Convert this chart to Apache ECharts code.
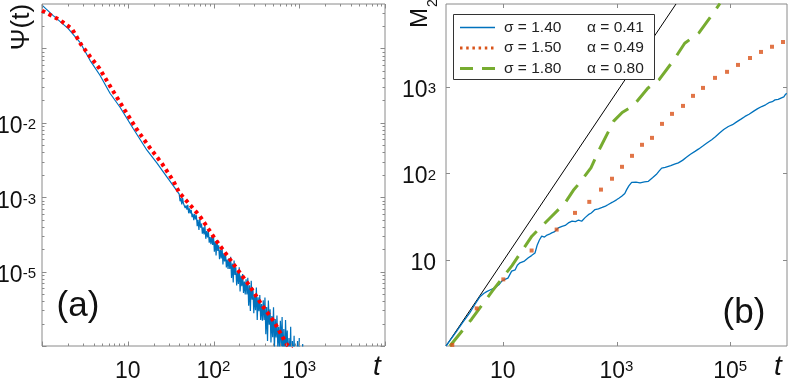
<!DOCTYPE html>
<html><head><meta charset="utf-8">
<script src="https://cdn.jsdelivr.net/npm/echarts@6/dist/echarts.min.js"></script>
<style>html,body{margin:0;padding:0;background:#fff}#c{width:789px;height:378px}</style>
</head><body><div id="c"></div>
<script>
const psiSimLog10 = [
  [0,-0.42],[0.128,-0.557],[0.303,-0.732],[0.443,-0.919],[0.560,-1.161],[0.676,-1.362],[0.793,-1.604],
  [0.910,-1.792],[1.061,-2.074],[1.224,-2.369],[1.341,-2.544],[1.458,-2.732],[1.551,-2.879],
  [1.60,-2.960],[1.61,-3.055],[1.62,-3.010],[1.63,-3.096],[1.64,-3.011],[1.65,-3.086],[1.66,-3.061],
  [1.67,-3.146],[1.68,-3.111],[1.69,-3.167],[1.70,-3.102],[1.71,-3.217],[1.72,-3.152],[1.73,-3.217],
  [1.74,-3.172],[1.75,-3.268],[1.76,-3.223],[1.77,-3.308],[1.78,-3.223],[1.79,-3.298],
  [1.80,-3.243],[1.81,-3.389],[1.82,-3.304],[1.83,-3.439],[1.84,-3.294],[1.85,-3.409],[1.86,-3.354],
  [1.87,-3.490],[1.88,-3.405],[1.89,-3.500],[1.90,-3.385],[1.91,-3.560],[1.92,-3.455],[1.93,-3.541],
  [1.94,-3.456],[1.95,-3.611],[1.96,-3.536],[1.97,-3.631],[1.98,-3.526],[1.99,-3.642],
  [2.00,-3.527],[2.01,-3.732],[2.02,-3.597],[2.03,-3.782],[2.04,-3.577],[2.05,-3.723],[2.06,-3.648],
  [2.07,-3.833],[2.08,-3.708],[2.09,-3.823],[2.10,-3.669],[2.11,-3.904],[2.12,-3.759],[2.13,-3.864],
  [2.14,-3.749],[2.15,-3.944],[2.16,-3.840],[2.17,-3.965],[2.18,-3.820],[2.19,-3.965],
  [2.20,-3.800],[2.21,-4.085],[2.22,-3.891],[2.23,-4.146],[2.24,-3.851],[2.25,-4.046],[2.26,-3.941],
  [2.27,-4.186],[2.28,-4.002],[2.29,-4.167],[2.30,-3.942],[2.31,-4.267],[2.32,-4.052],[2.33,-4.197],
  [2.34,-4.033],[2.35,-4.288],[2.36,-4.133],[2.37,-4.308],[2.38,-4.103],[2.39,-4.308],
  [2.40,-4.084],[2.41,-4.459],[2.42,-4.184],[2.43,-4.529],[2.44,-4.124],[2.45,-4.379],[2.46,-4.225],
  [2.47,-4.560],[2.48,-4.305],[2.49,-4.520],[2.50,-4.215],[2.51,-4.650],[2.52,-4.346],[2.53,-4.531],
  [2.54,-4.316],[2.55,-4.651],[2.56,-4.436],[2.57,-4.661],[2.58,-4.387],[2.59,-4.652],
  [2.60,-4.347],[2.61,-4.842],[2.62,-4.477],[2.63,-4.932],[2.64,-4.388],[2.65,-4.713],[2.66,-4.508],
  [2.67,-4.953],[2.68,-4.598],[2.69,-4.883],[2.70,-4.479],[2.71,-5.054],[2.72,-4.639],[2.73,-4.884],
  [2.74,-4.589],[2.75,-5.035],[2.76,-4.740],[2.77,-5.035],[2.78,-4.660],[2.79,-5.005],
  [2.80,-4.610],[2.81,-5.246],[2.82,-4.771],[2.83,-5.356],[2.84,-4.651],[2.85,-5.046],[2.86,-4.791],
  [2.87,-5.367],[2.88,-4.892],[2.89,-5.267],[2.90,-4.742],[2.91,-5.477],[2.92,-4.932],[2.93,-5.248],
  [2.94,-4.863],[2.95,-5.438],[2.96,-5.033],[2.97,-5.428],[2.98,-4.933],[2.99,-5.379],
  [3.00,-4.894],[3.01,-5.579],[3.02,-5.064],[3.03,-5.659],[3.04,-4.974],[3.05,-5.490],[3.06,-5.085],
  [3.07,-5.700],[3.08,-5.015],[3.09,-5.600],[3.10,-5.085],[3.11,-5.781],[3.12,-5.076]
];
const psiFit = [
  [1,0.32],[1.62,0.24],[2.24,0.182],[2.82,0.115],[3.63,0.0776],[4.68,0.0537],[6.46,0.0288],
  [9.33,0.0145],[12.6,8.3e-3],[18.2,4.57e-3],[25.1,2.82e-3],[33.9,1.66e-3],[39.8,1.15e-3],
  [69,5.6e-4],[107,2.63e-4],[166,1.32e-4],[263,6.46e-5],[372,3.47e-5],[513,2.09e-5],[708,1.07e-5],[1000,7.1e-6]
];
// ---------- panel (b): second moment M2(t) ----------
const m2Sigma140 = [
  [1,1],[1.5,1.45],[2,1.9],[2.6,2.4],[3.2,3.0],[3.96,3.72],[4.6,4.05],[5.2,4.25],[6.2,4.5],[7.28,4.72],
  [8.5,5.1],[9.5,5.6],[10.9,5.89],[12.3,6.1],[14.3,7.33],[16.5,7.6],[18,8.6],[20,9.16],[24,9.6],[28.1,10.5],
  [32,11.1],[36.8,11.9],[40,14.5],[44,16.8],[48.3,18.6],[54,18.2],[60,19.2],[66,19.6],[72.4,20.3],[82,21.0],
  [94.6,23.2],[110,24.2],[125,24.8],[142,26.5],[165,27.8],[190,27.4],[215,28.6],[244,27.7],[280,30.5],
  [320,33],[360,34.5],[419,37.8],[480,38.6],[560,40],[640,41.5],[718,43.2],[850,46],[1000,49],[1100,51],
  [1233,53.8],[1400,58],[1510,64.3],[1650,71],[1849,78.0],[2200,78.5],[2600,77],[3100,79],[3639,80.2],
  [4300,88],[5000,96],[5600,105],[6237,114],[7200,116],[9000,122],[10500,127],[12250,131],[14500,140],
  [17000,152],[20000,165],[24040,178],[28000,190],[33000,205],[39000,222],[47320,243],[55000,262],
  [65000,290],[77000,318],[92900,345],[110000,362],[130000,390],[155000,420],[182400,451],[215000,478],
  [260000,520],[305000,555],[358900,587],[420000,615],[480000,650],[550000,668],[615200,701],[700000,712],
  [800000,740],[880000,760],[940000,810],[988500,837]
];
const m2Sigma150 = [
  [1.29,1.03],[3.47,2.72],[10.2,5.89],[32.1,12.7],[88.5,22.2],[186,34.6],[332,46.4],[533,64.3],
  [834,85.9],[1250,118],[1875,158],[2812,212],[4217,255],[6324,370],[9484,483],[14800,597],
  [22190,780],[33280,964],[54080,1259],[88100,1479],[137400,1778],[223400,2138],[349100,2512],
  [544500,2884],[851000,3273]
];
const m2Sigma180 = [
  [1.17,1.0],[2.82,2.04],[6.61,4.37],[14.5,8.51],[32.4,18.6],[67.6,30.2],[123,44.7],[174,63.1],
  [234,79.4],[355,115],[525,200],[891,398],[1259,501],[1995,603],[3548,955],[5623,1202],
  [10000,1995],[15850,3162],[28180,4169],[44670,6310],[66070,9120]
];
const ballistic = [[1,1],[11140,9000]];
const legendSigma = ['σ = 1.40','σ = 1.50','σ = 1.80'];
const legendAlpha = ['α = 0.41','α = 0.49','α = 0.80'];
// ---------- ticks and labels ----------
const leftXLabels = [[10,'10',''],[100,'10','2'],[1000,'10','3']];
const leftYLabels = [[1e-2,'10','-2'],[1e-3,'10','-3'],[1e-4,'10','-5']];
const rightXLabels = [[10,'10',''],[1000,'10','3'],[1e5,'10','5']];
const rightYLabels = [[10,'10',''],[100,'10','2'],[1000,'10','3']];
const leftXMajor = [1,10,100,1000,10000];
const leftXMinor = [2,3,4,5,6,7,8,9,20,30,40,50,60,70,80,90,200,300,400,500,600,700,800,900,
  2000,3000,4000,5000,6000,7000,8000,9000];
const leftYMajor = [1e-5,1e-4,1e-3,1e-2,1e-1];
const leftYMinor = [2e-5,3e-5,4e-5,5e-5,6e-5,7e-5,8e-5,9e-5,2e-4,3e-4,4e-4,5e-4,6e-4,7e-4,8e-4,9e-4,
  2e-3,3e-3,4e-3,5e-3,6e-3,7e-3,8e-3,9e-3,0.02,0.03,0.04,0.05,0.06,0.07,0.08,0.09,0.2,0.3];
const rightXMajor = [10,1000,100000];
const rightYMajor = [10,100,1000];

const psiSim = psiSimLog10.map(p => [Math.pow(10, p[0]), Math.pow(10, p[1])]);

const FONT = "'Liberation Sans', Arial, Helvetica, sans-serif";
const AXIS_COLOR = '#8a8a8a';
const TXT = '#111';
const C_BLUE = '#0072BD', C_ORANGE = '#D95319', C_GREEN = '#77AC30';

function fmt(table){
  return function(val){
    for (const [v,b,s] of table){
      if (Math.abs(Math.log10(val) - Math.log10(v)) < 1e-6) return s ? '{b|' + b + '}{sup|' + s + '}' : '{b|' + b + '}';
    }
    return '';
  };
}
function axisLabel(table, margin, P){
  return {formatter: fmt(table), margin: margin, color: TXT, fontFamily: FONT, fontSize: 23,
    rich: {
      b: {fontSize: 23, lineHeight: 26, padding:[P,0,0,0], fontFamily: FONT, color: TXT},
      sup: {fontSize: 15, lineHeight: 15, padding:[P,0,0,0], verticalAlign: 'top', fontFamily: FONT, color: TXT}}};
}
function logAxis(grid, min, max, table, margin, P){
  return {type:'log', logBase:10, gridIndex:grid, min:min, max:max,
    axisLine:{show:false}, axisTick:{show:false}, splitLine:{show:false}, minorTick:{show:false},
    axisLabel: axisLabel(table, margin, P)};
}
function ticks(grid, axis, values, len, ref){
  return {type:'custom', name:'_ticks', xAxisIndex:grid, yAxisIndex:grid, silent:true, z:10, clip:false,
    data: values.map(v => axis === 'x' ? [v, ref] : [ref, v]),
    renderItem: function(params, api){
      const cs = params.coordSys;
      const p = api.coord([api.value(0), api.value(1)]);
      const st = {stroke: AXIS_COLOR, lineWidth: 1};
      if (axis === 'x'){
        const x = Math.round(p[0]) + 0.5;
        return {type:'group', children:[
          {type:'line', shape:{x1:x, y1:cs.y+cs.height, x2:x, y2:cs.y+cs.height-len}, style:st},
          {type:'line', shape:{x1:x, y1:cs.y, x2:x, y2:cs.y+len}, style:st}]};
      }
      const y = Math.round(p[1]) + 0.5;
      return {type:'group', children:[
        {type:'line', shape:{x1:cs.x, y1:y, x2:cs.x+len, y2:y}, style:st},
        {type:'line', shape:{x1:cs.x+cs.width, y1:y, x2:cs.x+cs.width-len, y2:y}, style:st}]};
    }};
}
// legend box (panel b)
const legRowY = [27.5, 48, 68.5];
const legStyles = [
  {stroke:C_BLUE, lineWidth:1.5},
  {stroke:C_ORANGE, lineWidth:3, lineDash:[2.5,3.7]},
  {stroke:C_GREEN, lineWidth:3, lineDash:[13,9]}
];
const legendGraphic = [{type:'rect', shape:{x:453.5, y:14.5, width:201, height:65}, style:{fill:'#fff', stroke:'#333', lineWidth:1}, z:50}];
legendSigma.forEach((s, i) => {
  legendGraphic.push({type:'line', shape:{x1:460, y1:legRowY[i], x2:495, y2:legRowY[i]}, style:legStyles[i], z:51});
  legendGraphic.push({type:'text', x:504, y:legRowY[i], style:{text:s, fontSize:15.5, fontFamily:FONT, fill:'#222', align:'left', verticalAlign:'middle'}, z:51});
  legendGraphic.push({type:'text', x:587, y:legRowY[i], style:{text:legendAlpha[i], fontSize:15.5, fontFamily:FONT, fill:'#222', align:'left', verticalAlign:'middle'}, z:51});
});

const chart = echarts.init(document.getElementById('c'), null, {renderer:'canvas'});
chart.setOption({
  animation:false,
  backgroundColor:'#fff',
  grid:[
    {left:42, top:4, width:343, height:342, show:true, borderColor:AXIS_COLOR, borderWidth:1, backgroundColor:'transparent', containLabel:false, outerBoundsMode:'none'},
    {left:446, top:4, width:341, height:342, show:true, borderColor:AXIS_COLOR, borderWidth:1, backgroundColor:'transparent', containLabel:false, outerBoundsMode:'none'}
  ],
  xAxis:[ logAxis(0, 1, 10000, leftXLabels, 13, 0), logAxis(1, 1, 1e6, rightXLabels, 13, 0) ],
  yAxis:[ logAxis(0, 1e-5, 0.394, leftYLabels, 6, 8), logAxis(1, 1, 9000, rightYLabels, 10, 8) ],
  series:[
    ticks(0,'x',leftXMajor,4.5,1e-3), ticks(0,'x',leftXMinor,2.5,1e-3),
    ticks(0,'y',leftYMajor,4.5,10), ticks(0,'y',leftYMinor,2.5,10),
    ticks(1,'x',rightXMajor,4,10), ticks(1,'y',rightYMajor,4,10),
    {type:'line', name:'psi', xAxisIndex:0, yAxisIndex:0, data:psiSim, showSymbol:false, z:3,
      lineStyle:{color:C_BLUE, width:1.2}, itemStyle:{color:C_BLUE}},
    {type:'line', name:'fit', xAxisIndex:0, yAxisIndex:0, data:psiFit, showSymbol:false, z:4,
      lineStyle:{color:'#FF0000', width:4, type:[3.5,3.8], cap:'butt'}, itemStyle:{color:'#FF0000'}},
    {type:'line', name:'ballistic', xAxisIndex:1, yAxisIndex:1, data:ballistic, showSymbol:false, z:2,
      lineStyle:{color:'#000', width:1}},
    {type:'line', name:legendSigma[0], xAxisIndex:1, yAxisIndex:1, data:m2Sigma140, showSymbol:false, z:3,
      lineStyle:{color:C_BLUE, width:1.3}, itemStyle:{color:C_BLUE}},
    {type:'scatter', name:legendSigma[1], xAxisIndex:1, yAxisIndex:1, data:m2Sigma150, symbol:'rect', symbolSize:4, z:4,
      itemStyle:{color:C_ORANGE}},
    {type:'line', name:legendSigma[2], xAxisIndex:1, yAxisIndex:1, data:m2Sigma180, showSymbol:false, z:4,
      lineStyle:{color:C_GREEN, width:3, type:[20,11], cap:'butt'}, itemStyle:{color:C_GREEN}}
  ],
  graphic:[
    {type:'text', x:22, y:27, rotation:Math.PI/2, style:{text:'Ψ(t)', fontSize:26, fontFamily:FONT, fill:TXT, align:'center', verticalAlign:'middle'}},
    {type:'text', x:420, y:18, rotation:Math.PI/2, style:{text:'M', fontSize:24, fontFamily:FONT, fill:TXT, align:'center', verticalAlign:'middle'}},
    {type:'text', x:433, y:3, rotation:Math.PI/2, style:{text:'2', fontSize:14, fontFamily:FONT, fill:TXT, align:'center', verticalAlign:'middle'}},
    {type:'text', x:377, y:367, style:{text:'t', fontSize:28, fontStyle:'italic', fontFamily:FONT, fill:TXT, align:'center', verticalAlign:'middle'}},
    {type:'text', x:778, y:367, style:{text:'t', fontSize:28, fontStyle:'italic', fontFamily:FONT, fill:TXT, align:'center', verticalAlign:'middle'}},
    {type:'text', x:78, y:306, style:{text:'(a)', fontSize:35, fontFamily:FONT, fill:TXT, align:'center', verticalAlign:'middle'}},
    {type:'text', x:744, y:313, style:{text:'(b)', fontSize:35, fontFamily:FONT, fill:TXT, align:'center', verticalAlign:'middle'}}
  ].concat(legendGraphic)
});
</script></body></html>
